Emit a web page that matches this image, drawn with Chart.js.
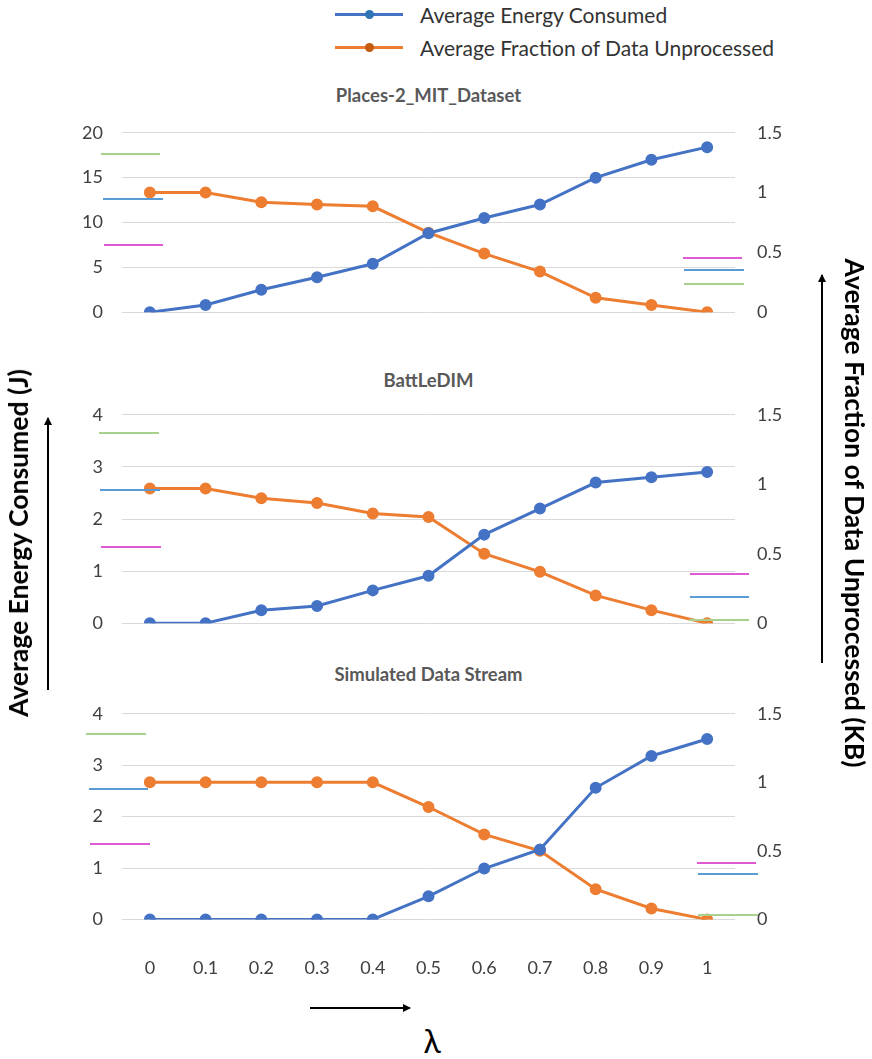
<!DOCTYPE html>
<html>
<head>
<meta charset="utf-8">
<script src="https://cdn.jsdelivr.net/npm/chart.js@4.4.1/dist/chart.umd.min.js"></script>
<style>
  body { margin: 0; background: #fff; width: 872px; height: 1059px; position: relative; overflow: hidden; font-family: Lato, "Open Sans", sans-serif; }
  canvas { position: absolute; left: 0; }
  .title { position: absolute; left: 122px; width: 613px; text-align: center; font-weight: bold; font-size: 18.5px; color: #595959; }
  .legend { position: absolute; left: 335px; font-size: 21px; color: #333; }
  .legend div { height: 33px; display: flex; align-items: center; }
  .legend .sw { width: 68px; height: 3px; position: relative; margin-right: 17px; }
  .legend .sw i { position: absolute; left: 30px; top: -3px; width: 9px; height: 9px; border-radius: 50%; }
  .vlabel { position: absolute; font-weight: bold; font-size: 26.5px; color: #000; white-space: nowrap; transform-origin: center center; }
  svg.overlay { position: absolute; left: 0; top: 0; pointer-events: none; }
</style>
</head>
<body>

<div class="legend" style="top:-2px">
  <div><span class="sw" style="background:#4472C4"><i style="background:#2E75B6"></i></span>Average Energy Consumed</div>
  <div><span class="sw" style="background:#ED7D31"><i style="background:#C55A11"></i></span>Average Fraction of Data Unprocessed</div>
</div>

<div class="title" style="top:84px">Places-2_MIT_Dataset</div>
<div class="title" style="top:369px">BattLeDIM</div>
<div class="title" style="top:663px">Simulated Data Stream</div>

<canvas id="c1" width="872" height="245" style="top:100px"></canvas>
<canvas id="c2" width="872" height="274" style="top:382px"></canvas>
<canvas id="c3" width="872" height="338" style="top:681px"></canvas>

<div class="vlabel" style="left:18px; top:543px; transform: translate(-50%,-50%) rotate(-90deg);">Average Energy Consumed (J)</div>
<div class="vlabel" style="left:855px; top:513px; transform: translate(-50%,-50%) rotate(90deg);">Average Fraction of Data Unprocessed (KB)</div>
<div style="position:absolute; left:432px; top:1040px; transform:translate(-50%,-50%); font-size:32px; color:#000;">λ</div>

<svg class="overlay" width="872" height="1059">
  <defs>
    <marker id="ah" markerWidth="8" markerHeight="8" refX="7" refY="4" orient="auto" markerUnits="userSpaceOnUse">
      <path d="M0,0 L8,4 L0,8 z" fill="#000"/>
    </marker>
  </defs>
  <line x1="48" y1="690" x2="48" y2="418" stroke="#000" stroke-width="2" marker-end="url(#ah)"/>
  <line x1="822" y1="663" x2="822" y2="275" stroke="#000" stroke-width="2" marker-end="url(#ah)"/>
  <line x1="310" y1="1008" x2="410" y2="1008" stroke="#000" stroke-width="2" marker-end="url(#ah)"/>
  <g id="stray" stroke-width="2"></g>
</svg>

<script>
const lambdas = ['0', '0.1', '0.2', '0.3', '0.4', '0.5', '0.6', '0.7', '0.8', '0.9', '1'];

// Places-2_MIT_Dataset
const placesEnergy = [0, 0.8, 2.5, 3.9, 5.4, 8.8, 10.5, 12.0, 15.0, 17.0, 18.4];
const placesUnprocessed = [1.0, 1.0, 0.92, 0.9, 0.885, 0.665, 0.49, 0.34, 0.12, 0.06, 0];

// BattLeDIM
const battEnergy = [0, 0, 0.25, 0.33, 0.63, 0.91, 1.7, 2.2, 2.7, 2.8, 2.9];
const battUnprocessed = [0.97, 0.97, 0.9, 0.865, 0.79, 0.765, 0.5, 0.37, 0.2, 0.094, 0];

// Simulated Data Stream
const simEnergy = [0, 0, 0, 0, 0, 0.45, 0.99, 1.36, 2.56, 3.18, 3.51];
const simUnprocessed = [1.0, 1.0, 1.0, 1.0, 1.0, 0.82, 0.62, 0.5, 0.22, 0.08, 0];

const blue = '#4472C4';
const orange = '#ED7D31';
const tickFont = { family: 'Lato', size: 18 };
const tickColor = '#404040';

function makePanel(id, energy, unprocessed, leftMax, leftStep, showX) {
    const ctx = document.getElementById(id).getContext('2d');
    return new Chart(ctx, {
        type: 'line',
        data: {
            labels: lambdas,
            datasets: [
                {
                    label: 'Average Energy Consumed',
                    data: energy,
                    yAxisID: 'yLeft',
                    borderColor: blue,
                    backgroundColor: blue,
                    borderWidth: 3,
                    pointRadius: 4.5,
                    tension: 0
                },
                {
                    label: 'Average Fraction of Data Unprocessed',
                    data: unprocessed,
                    yAxisID: 'yRight',
                    borderColor: orange,
                    backgroundColor: orange,
                    borderWidth: 3,
                    pointRadius: 4.5,
                    tension: 0
                }
            ]
        },
        options: {
            responsive: false,
            animation: false,
            layout: { padding: { top: 9, bottom: showX ? 10 : 9, left: 0, right: 0 } },
            plugins: {
                legend: { display: false },
                tooltip: { enabled: false }
            },
            scales: {
                x: {
                    display: showX,
                    offset: true,
                    grid: { display: false },
                    border: { display: false },
                    ticks: { font: tickFont, color: tickColor, padding: 30, maxRotation: 0 }
                },
                yLeft: {
                    position: 'left',
                    min: 0,
                    max: leftMax,
                    ticks: { stepSize: leftStep, font: tickFont, color: tickColor, padding: 19 },
                    grid: { color: '#d9d9d9', lineWidth: 1, drawTicks: false },
                    border: { display: false },
                    afterFit: s => { s.width = 122; }
                },
                yRight: {
                    position: 'right',
                    min: 0,
                    max: 1.5,
                    ticks: { stepSize: 0.5, font: tickFont, color: tickColor, padding: 22, callback: v => String(v) },
                    grid: { display: false, drawTicks: false },
                    border: { display: false },
                    afterFit: s => { s.width = 137; }
                }
            }
        }
    });
}

makePanel('c1', placesEnergy, placesUnprocessed, 20, 5, false);
makePanel('c2', battEnergy, battUnprocessed, 4, 1, false);
makePanel('c3', simEnergy, simUnprocessed, 4, 1, true);

// stray legend-key strokes left over in the original figure
const strayMarks = [
    ['#a9d18e', 101, 160, 154], ['#5b9bd5', 103, 163, 199], ['#e05ad6', 104, 163, 245],
    ['#e05ad6', 683, 742, 258], ['#5b9bd5', 684, 744, 270], ['#a9d18e', 684, 744, 284],
    ['#a9d18e', 99, 159, 433], ['#5b9bd5', 100, 160, 490], ['#e05ad6', 101, 161, 547],
    ['#e05ad6', 690, 749, 574], ['#5b9bd5', 690, 749, 597], ['#a9d18e', 689, 749, 620],
    ['#a9d18e', 86, 146, 734], ['#5b9bd5', 89, 148, 789], ['#e05ad6', 90, 150, 844],
    ['#e05ad6', 697, 756, 863], ['#5b9bd5', 698, 758, 874], ['#a9d18e', 698, 758, 915]
];
const g = document.getElementById('stray');
strayMarks.forEach(([c, x1, x2, y]) => {
    const l = document.createElementNS('http://www.w3.org/2000/svg', 'line');
    l.setAttribute('x1', x1); l.setAttribute('x2', x2);
    l.setAttribute('y1', y); l.setAttribute('y2', y);
    l.setAttribute('stroke', c);
    g.appendChild(l);
});
</script>
</body>
</html>
